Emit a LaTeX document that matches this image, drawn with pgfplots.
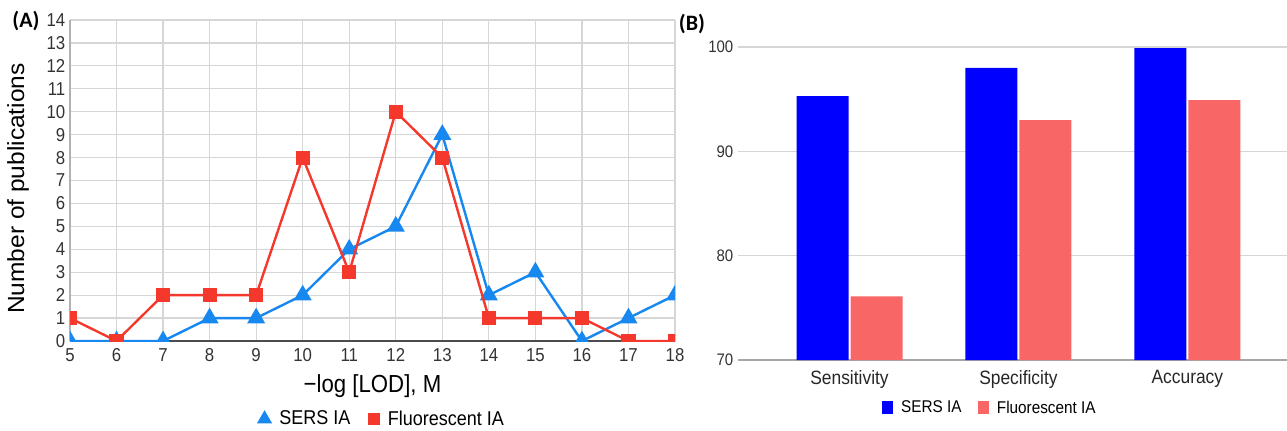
\documentclass[border=0pt]{standalone}
\usepackage{pgfplots}
\pgfplotsset{compat=1.18}
\usepackage{fontspec}
\setmainfont{Liberation Sans}[FakeStretch=0.9]
\newfontfamily\widefont{Liberation Sans}[FakeStretch=1.05]
\newfontfamily\panelfont{Carlito}
\definecolor{lblue}{RGB}{22,136,240}
\definecolor{lred}{RGB}{244,56,44}
\definecolor{bblue}{RGB}{0,0,255}
\definecolor{bsalmon}{RGB}{249,102,102}
\definecolor{gridc}{RGB}{214,214,214}
\begin{document}
\begin{tikzpicture}
\useasboundingbox (0,0) rectangle (965.25pt,322.5pt);
\begin{axis}[
  at={(52.5pt,66.75pt)}, anchor=south west, scale only axis,
  width=453.75pt, height=240.75pt,
  xmin=5, xmax=18, ymin=0, ymax=14,
  xtick={5,...,18}, ytick={0,...,14},
  grid=major, major grid style={draw=gridc, line width=0.9pt},
  axis x line*=bottom, axis y line*=left,
  x axis line style={-, draw=black!70, line width=1.1pt},
  y axis line style={-, draw=gray!60, line width=0.9pt},
  tick style={draw=none},
  /pgf/number format/assume math mode=true,
  ticklabel style={font=\fontsize{14}{14}\selectfont, text=black!80},
  xticklabel style={yshift=-2pt},
  xlabel={−log [LOD], M},
  xlabel style={font=\fontsize{18.5}{18.5}\selectfont, at={(axis description cs:0.5,-0.142)}, anchor=center},
  ylabel={Number of publications},
  ylabel style={font=\widefont\fontsize{17.5}{17.5}\selectfont, at={(axis description cs:-0.086,0.475)}, anchor=center},
  clip marker paths=true,
  legend columns=-1,
  legend style={at={(axis description cs:0.517,-0.243)}, anchor=center, draw=none, fill=none,
    font=\fontsize{15}{15}\selectfont,
    /tikz/every odd column/.append style={column sep=5pt},
    /tikz/every even column/.append style={column sep=12pt}},
  legend image code/.code={\draw[#1, mark size=0.8\pgfplotmarksize] plot coordinates {(0.2cm,0cm)};},
]
\addplot[color=lblue, line width=1.8pt, mark=triangle*, mark size=6pt, mark options={fill=lblue, draw=lblue}]
coordinates {(5,0)(6,0)(7,0)(8,1)(9,1)(10,2)(11,4)(12,5)(13,9)(14,2)(15,3)(16,0)(17,1)(18,2)};
\addlegendentry{SERS IA}
\addplot[color=lred, line width=1.8pt, mark=square*, mark size=4.4pt, mark options={fill=lred, draw=lred}]
coordinates {(5,1)(6,0)(7,2)(8,2)(9,2)(10,8)(11,3)(12,10)(13,8)(14,1)(15,1)(16,1)(17,0)(18,0)};
\addlegendentry{Fluorescent IA}
\end{axis}
\node[font=\panelfont\bfseries\fontsize{16.5}{16.5}\selectfont, anchor=center] at (19.5pt,306.75pt) {(A)};
\begin{axis}[
  at={(553.5pt,52.5pt)}, anchor=south west, scale only axis,
  width=411.75pt, height=234.75pt,
  xmin=-0.66, xmax=2.59, ymin=70, ymax=100,
  xtick={0,1,2}, xticklabels={Sensitivity,Specificity,Accuracy},
  ytick={70,80,90,100},
  ymajorgrids, major grid style={draw=gridc, line width=0.9pt},
  axis x line*=bottom, axis y line*=left,
  x axis line style={-, draw=gray!70, line width=0.9pt},
  y axis line style={draw=none},
  tick style={draw=none},
  /pgf/number format/assume math mode=true,
  yticklabel style={font=\fontsize{12.5}{12.5}\selectfont, text=black!80},
  xticklabel style={font=\fontsize{14.5}{14.5}\selectfont, text=black!85, yshift=-4pt},
  legend columns=-1,
  legend style={at={(axis description cs:0.459,-0.153)}, anchor=center, draw=none, fill=none,
    font=\fontsize{12.75}{12.75}\selectfont,
    /tikz/every odd column/.append style={column sep=4pt},
    /tikz/every even column/.append style={column sep=10pt}},
  legend image code/.code={\fill[#1] (0cm,-0.15cm) rectangle (0.3cm,0.19cm);},
]
\addplot[ybar, bar width=39pt, bar shift=-20.25pt, fill=bblue, draw=none]
coordinates {(0,95.3)(1,98.0)(2,99.9)};
\addlegendentry{SERS IA}
\addplot[ybar, bar width=39pt, bar shift=20.25pt, fill=bsalmon, draw=none]
coordinates {(0,76.1)(1,93.0)(2,94.9)};
\addlegendentry{Fluorescent IA}
\end{axis}
\node[font=\panelfont\bfseries\fontsize{16.5}{16.5}\selectfont, anchor=center] at (519pt,304.5pt) {(B)};
\end{tikzpicture}
\end{document}
